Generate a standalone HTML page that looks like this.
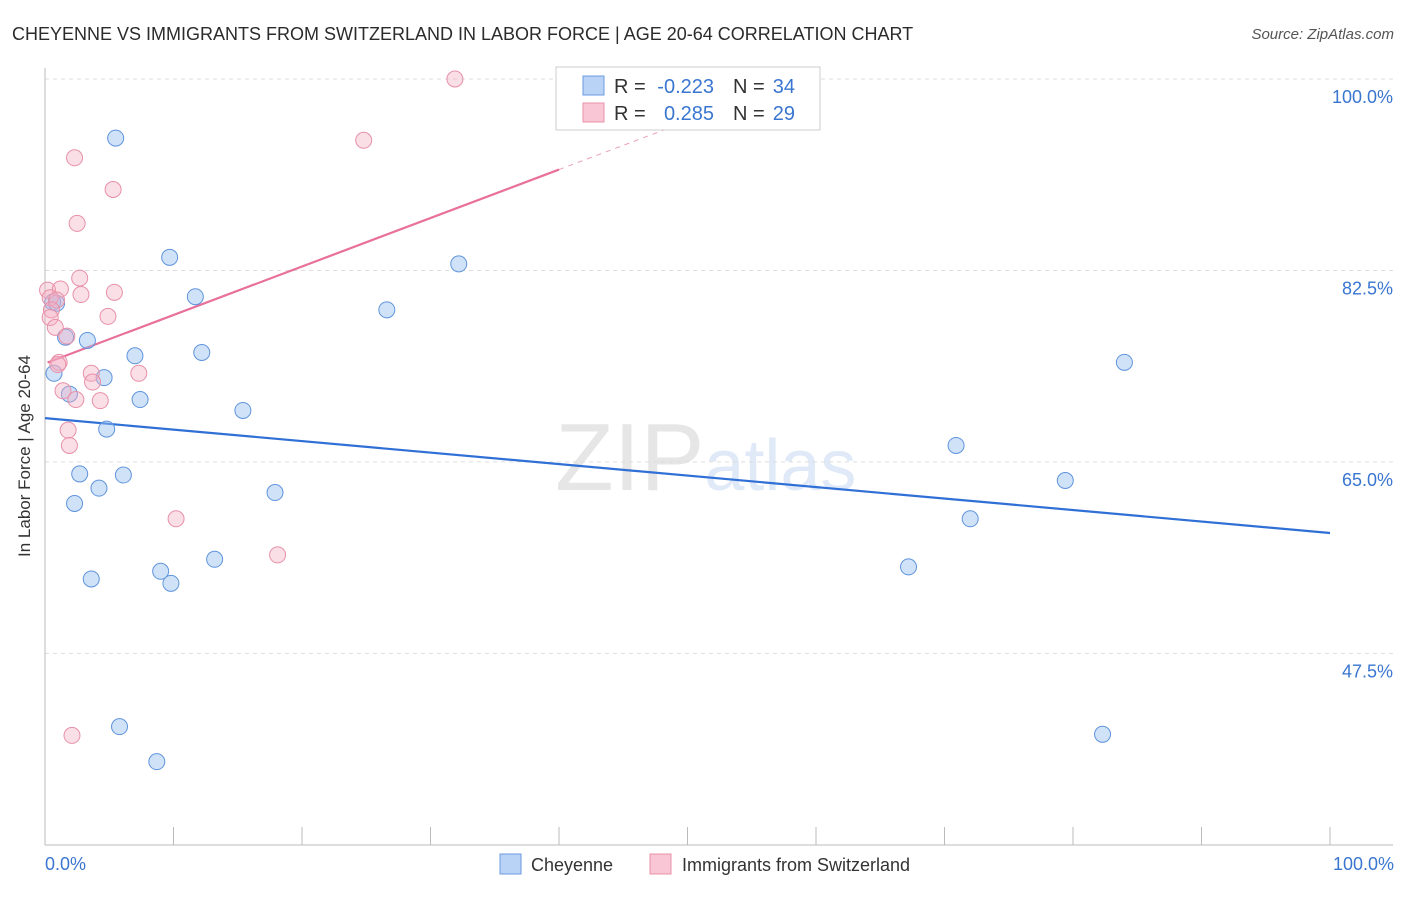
<!DOCTYPE html>
<html><head><meta charset="utf-8"><style>
body{margin:0;background:#fff;font-family:"Liberation Sans",sans-serif}
svg text{font-family:"Liberation Sans",sans-serif}
</style></head><body>
<svg id="chart" width="1406" height="892" xmlns="http://www.w3.org/2000/svg">
<text x="12" y="40" font-size="18" fill="#2b2b2b">CHEYENNE VS IMMIGRANTS FROM SWITZERLAND IN LABOR FORCE | AGE 20-64 CORRELATION CHART</text>
<text x="1394" y="39" font-size="15" fill="#555" text-anchor="end" font-style="italic">Source: ZipAtlas.com</text>
<text x="555" y="490" font-size="96" fill="#e6e6e6" font-family="Liberation Serif">ZIP<tspan fill="#dfe9f7" font-family="Liberation Sans" font-size="72">atlas</tspan></text>
<g id="grid"></g><g id="axes"></g><g id="lines"></g><g id="points"></g>
<text x="30" y="456" font-size="17" fill="#333" text-anchor="middle" transform="rotate(-90 30 456)">In Labor Force | Age 20-64</text>
<text x="45" y="870" font-size="18" fill="#3a76d0">0.0%</text>
<text x="1394" y="870" font-size="18" fill="#3a76d0" text-anchor="end">100.0%</text>
<g>
<rect x="556" y="67" width="264" height="63" fill="#fff" stroke="#ccc"/>
<rect x="583" y="76" width="21" height="19" fill="#b8d3f5" stroke="#6a9be0"/>
<rect x="583" y="103" width="21" height="19" fill="#f8c6d4" stroke="#e890a8"/>
<text x="614" y="93" font-size="20" fill="#333">R = <tspan x="714" text-anchor="end" fill="#3a76d0">-0.223</tspan><tspan x="733">N = </tspan><tspan x="795" text-anchor="end" fill="#3a76d0">34</tspan></text>
<text x="614" y="120" font-size="20" fill="#333">R = <tspan x="714" text-anchor="end" fill="#3a76d0">0.285</tspan><tspan x="733">N = </tspan><tspan x="795" text-anchor="end" fill="#3a76d0">29</tspan></text>
</g>
<g><rect x="500" y="854" width="21" height="20" fill="#b8d3f5" stroke="#6a9be0"/><text x="531" y="871" font-size="18" fill="#333">Cheyenne</text></g>
<g><rect x="650" y="854" width="21" height="20" fill="#f8c6d4" stroke="#e890a8"/><text x="682" y="871" font-size="18" fill="#333">Immigrants from Switzerland</text></g>
</svg>
<script>
const blueX=[5.5,9.7,11.7,0.6,0.9,3.3,7.0,12.2,0.7,4.6,1.9,7.4,15.4,4.8,2.7,6.1,4.2,2.3,17.9,9.0,3.6,9.8,13.2,32.2,26.6,5.8,8.7,70.9,84.0,79.4,72.0,67.2,82.3,1.6];
const blueY=[94.6,83.7,80.1,79.6,79.5,76.1,74.7,75.0,73.1,72.7,71.2,70.7,69.7,68.0,63.9,63.8,62.6,61.2,62.2,55.0,54.3,53.9,56.1,83.1,78.9,40.8,37.6,66.5,74.1,63.3,59.8,55.4,40.1,76.4];
const pinkX=[31.9,24.8,2.3,5.3,2.5,2.7,0.2,1.2,2.8,5.4,0.4,0.9,0.5,4.9,0.4,0.8,1.7,1.1,1.0,3.6,7.3,3.7,1.4,2.4,4.3,1.8,1.9,10.2,18.1,2.1];
const pinkY=[100,94.4,92.8,89.9,86.8,81.8,80.7,80.8,80.3,80.5,80.0,79.8,78.9,78.3,78.2,77.3,76.5,74.1,73.9,73.1,73.1,72.3,71.5,70.7,70.6,67.9,66.5,59.8,56.5,40.0];
const yTicks=[100,82.5,65,47.5];
const yTickLabels=["100.0%","82.5%","65.0%","47.5%"];
const blueLine=[69.0,58.5];
const pinkLine=[74.0,0.443];
const X=v=>45+v*12.85, Y=v=>79+(100-v)*10.94;
const NS="http://www.w3.org/2000/svg";
function mk(tag,attrs,parent){const e=document.createElementNS(NS,tag);for(const k in attrs)e.setAttribute(k,attrs[k]);document.getElementById(parent).appendChild(e);return e;}
yTicks.forEach((t,i)=>{
 const l=mk('line',{x1:45,x2:1393,y1:Y(t),y2:Y(t),stroke:'#ddd','stroke-dasharray':'4 4'},'grid');
 
 
 const tx=mk('text',{x:1393,y:Y(t)+24,'font-size':18,fill:'#3a76d0','text-anchor':'end'},'grid');
 tx.textContent=yTickLabels[i];
 
 
});
const ax=mk('line',{x1:45,x2:1393,y1:845,y2:845,stroke:'#bbb'},'axes');


const ay=mk('line',{x1:45,x2:45,y1:68,y2:845,stroke:'#bbb'},'axes');


for(let k=0;k<=10;k++){const t=mk('line',{x1:X(k*10),x2:X(k*10),y1:827,y2:845,stroke:'#bbb'},'axes');
 
 }
const bl=mk('line',{x1:X(0),y1:Y(blueLine[0]),x2:X(100),y2:Y(blueLine[1]),stroke:'#2f6fd6','stroke-width':2.2},'lines');


const pl=mk('line',{x1:X(0.2),y1:Y(pinkLine[0]+pinkLine[1]*0.2),x2:X(40),y2:Y(pinkLine[0]+pinkLine[1]*40),stroke:'#e8709a','stroke-width':2.2},'lines');


const pd=mk('line',{x1:X(40),y1:Y(pinkLine[0]+pinkLine[1]*40),x2:X(52),y2:Y(pinkLine[0]+pinkLine[1]*52),stroke:'#e8a0b8','stroke-width':1,'stroke-dasharray':'5 5'},'lines');


blueX.forEach((x,i)=>{const c=mk('circle',{cx:X(x),cy:Y(blueY[i]),r:8,fill:'rgba(150,190,240,0.45)',stroke:'#5f94dd','stroke-width':1},'points');
 
 });
pinkX.forEach((x,i)=>{const c=mk('circle',{cx:X(x),cy:Y(pinkY[i]),r:8,fill:'rgba(245,175,195,0.4)',stroke:'#e890a8','stroke-width':1},'points');
 
 });
</script>
</body></html>
